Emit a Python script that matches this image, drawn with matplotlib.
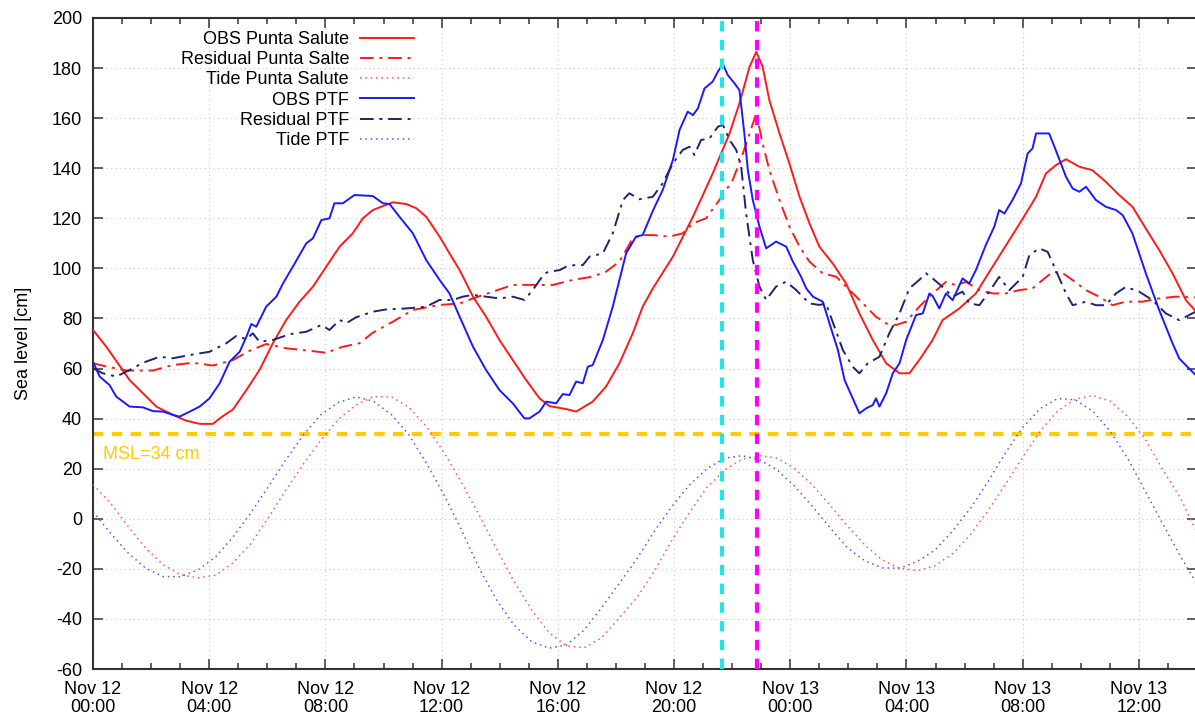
import matplotlib
matplotlib.use('Agg')
import matplotlib.pyplot as plt

plt.rcParams['font.family'] = ['Liberation Sans', 'DejaVu Sans']
plt.rcParams['axes.unicode_minus'] = False

# hours since Nov 12 00:00
obs_ps_t = [0, 0.46, 1.26, 2.18, 2.75, 3.2, 3.67, 4.13, 4.36, 4.82, 5.28, 5.73, 6.19, 6.65, 7.11, 7.57,
            8.03, 8.49, 8.94, 9.29, 9.63, 10.32, 10.78, 11.13, 11.47, 11.93, 12.27, 12.62, 13.08, 13.53,
            13.99, 14.45, 14.91, 15.37, 15.71, 16.29, 16.63, 17.2, 17.66, 18.12, 18.58, 18.92, 19.27,
            19.96, 20.65, 21.33, 21.91, 22.25, 22.6, 22.83, 23.05, 23.28, 23.63, 23.97, 24.32, 24.66,
            25.0, 25.46, 25.92, 26.38, 26.84, 27.3, 27.76, 28.1, 28.44, 28.9, 29.24, 29.82, 30.39, 30.96,
            31.54, 32.11, 32.46, 32.8, 33.14, 33.49, 33.95, 34.4, 34.86, 35.32, 35.78, 36.24, 36.7,
            37.16, 37.62, 37.95]
obs_ps = [75.4, 68.7, 55.4, 44.8, 41.5, 39.2, 37.9, 37.9, 40.1, 43.7, 51.4, 59.4, 70.1, 79.4, 86.7, 92.7,
          100.7, 108.7, 114, 120, 123.3, 126.4, 125.7, 124, 120.6, 112.7, 106, 99.3, 88.7, 80.7,
          71.4, 63.4, 55.4, 48.1, 45, 43.8, 42.8, 46.8, 52.8, 62.1, 74.1, 84.7, 92.0,
          104.7, 120.6, 137.9, 153.9, 165.9, 180.5, 186.5, 180.5, 167.2, 153.9, 141.9, 128.6, 118,
          108.7, 102, 94, 82, 71.4, 62.1, 58.1, 58.1, 63.4, 71.4, 79.3, 84, 90, 100.6,
          111.3, 121.9, 128.6, 137.9, 141.2, 143.6, 140.6, 139.2, 134.6, 129.3, 124.6, 115.9, 107.3,
          98, 87.3, 83]

res_ps_t = [0, 0.46, 1.15, 2.06, 2.75, 3.44, 4.13, 4.82, 5.39, 5.96, 6.65, 7.45, 8.03, 8.6, 9.17, 9.63,
            10.32, 11.01, 11.93, 12.62, 13.08, 13.76, 14.45, 15.14, 15.83, 16.52, 17.2, 17.66, 18.12,
            18.58, 18.92, 19.27, 19.84, 20.3, 20.65, 21.1, 21.56, 22.02, 22.37, 22.6, 22.83, 23.05,
            23.28, 23.63, 23.97, 24.32, 24.66, 25.12, 25.58, 26.04, 26.5, 26.95, 27.3, 27.64, 27.99,
            28.44, 28.9, 29.36, 29.7, 30.05, 30.51, 30.96, 31.42, 31.88, 32.34, 32.68, 33.03, 33.37,
            33.72, 34.18, 34.63, 35.09, 35.55, 36.12, 36.7, 37.27, 37.95]
res_ps = [62.1, 60.8, 59.2, 59.2, 61.4, 62.3, 61.2, 63.4, 67.1, 69.8, 68.1, 67.1, 66.3, 68.7, 70.1, 74.3,
          78.7, 83.4, 85.4, 86, 88, 90.7, 93.4, 93.4, 93.4, 95.4, 96.7, 98.7, 102.7,
          112, 113.3, 113.3, 112.7, 114, 118, 120, 127.3, 135.3, 145.9, 153.9, 161.9, 149.9,
          139.3, 127.3, 116.7, 108.7, 102.7, 98, 96.7, 91.4, 86, 80.7, 78, 77.4, 78.7,
          84.7, 90, 94.6, 93.3, 94.6, 91.3, 90, 90, 91.3, 92, 95.3, 98.6, 98.2,
          95.3, 91.3, 88.7, 85.3, 86.7, 86.7, 88, 88.7, 88.4]

obs_ptf_t = [0, 0.23, 0.57, 0.8, 1.26, 1.72, 2.06, 2.41, 2.75, 2.98, 3.33, 3.67, 4.01, 4.36, 4.7, 5.05,
             5.28, 5.45, 5.62, 5.96, 6.31, 6.54, 6.88, 7.34, 7.57, 7.86, 8.14, 8.31, 8.6, 9.0, 9.63,
             9.98, 10.21, 10.55, 11.01, 11.47, 11.93, 12.27, 12.62, 13.08, 13.53, 13.99, 14.45, 14.85,
             15.02, 15.37, 15.6, 15.94, 16.17, 16.4, 16.63, 16.86, 17.03, 17.2, 17.55, 17.89, 18.12,
             18.35, 18.69, 18.92, 19.27, 19.61, 19.96, 20.19, 20.47, 20.65, 20.82, 21.05, 21.33, 21.51,
             21.68, 21.85, 22.08, 22.25, 22.42, 22.54, 22.71, 22.94, 23.17, 23.51, 23.86, 24.09, 24.37,
             24.55, 24.78, 25.12, 25.35, 25.64, 25.87, 26.15, 26.38, 26.61, 26.84, 26.95, 27.07, 27.3,
             27.53, 27.76, 27.99, 28.33, 28.56, 28.79, 28.9, 29.13, 29.36, 29.59, 29.93, 30.16, 30.39,
             30.73, 31.02, 31.19, 31.37, 31.65, 31.94, 32.17, 32.34, 32.46, 32.68, 32.91, 33.14, 33.49,
             33.72, 33.95, 34.18, 34.52, 34.86, 35.21, 35.44, 35.78, 36.24, 36.7, 37.16, 37.39, 37.95]
obs_ptf = [62.7, 56.8, 53.4, 48.8, 44.8, 44.5, 43.0, 42.8, 41.5, 40.8, 42.8, 44.8, 48.1, 54.1, 62.7, 66.7,
           72.7, 77.8, 76.7, 84.7, 88.7, 94, 100.7, 110, 112, 119.3, 120, 126, 126, 129.3, 128.9,
           126, 125.7, 120.6, 114, 103.3, 95.4, 90, 80.7, 68.7, 59.4, 51.4, 46.1, 40.1,
           40.1, 42.8, 46.8, 46.1, 49.8, 49.4, 54.8, 54.1, 60.7, 61.4, 71.4, 84.7, 95.4,
           106, 112.7, 113.3, 123, 131.3, 143.3, 155.3, 162.6, 161.2, 163.9, 171.9, 174.6, 178.6,
           181.6, 177.2, 173.9, 171.2, 153.9, 139.3, 127.3, 116.7, 108, 110.7, 108.7, 102.7, 96.7,
           92, 88.7, 86.7, 78, 67.4, 55.4, 48.1, 42.1, 44.1, 45.4, 48.1, 44.8, 50.1,
           58.1, 62.1, 71.4, 81.4, 82, 90, 89, 84, 90, 87.3, 96, 94, 99.3,
           109.3, 116.6, 123.3, 121.9, 127.3, 133.9, 145.9, 147.9, 153.9, 153.9, 153.9, 147.2, 136.6,
           131.9, 130.6, 132.6, 127.3, 124.6, 123.3, 121.3, 113.9, 98, 83.3, 70, 64, 57.4]

res_ptf_t = [0, 0.34, 0.8, 1.26, 1.72, 2.29, 2.75, 3.33, 4.01, 4.59, 4.93, 5.28, 5.5, 5.73, 6.19, 6.77,
             7.34, 7.86, 8.14, 8.49, 8.72, 9.06, 9.63, 10.09, 10.78, 11.47, 11.93, 12.39, 12.73, 13.08,
             13.53, 13.99, 14.45, 14.85, 15.14, 15.54, 15.71, 16.06, 16.29, 16.57, 16.86, 17.09, 17.55,
             17.89, 18.24, 18.46, 18.81, 19.27, 19.61, 19.96, 20.3, 20.53, 20.7, 20.93, 21.22, 21.51,
             21.68, 21.91, 22.14, 22.31, 22.48, 22.71, 22.94, 23.17, 23.51, 23.86, 24.2, 24.66, 25.0,
             25.23, 25.52, 25.81, 26.15, 26.38, 26.67, 27.07, 27.41, 27.76, 28.1, 28.44, 28.67, 28.9,
             29.24, 29.59, 29.93, 30.16, 30.51, 30.85, 31.19, 31.54, 32.0, 32.23, 32.57, 32.86, 33.14,
             33.49, 33.72, 34.18, 34.52, 34.86, 35.21, 35.55, 36.01, 36.47, 36.93, 37.39, 37.95]
res_ptf = [60.1, 58.1, 56.8, 59.4, 62.3, 64.7, 64.1, 65.4, 66.7, 70.1, 73, 71.7, 74.1, 70.7, 71.4, 73.7,
           74.7, 77.4, 75.4, 79.4, 78.1, 80.5, 82.7, 83.6, 84, 84.7, 87.4, 87.4, 88.7, 89.4,
           88.7, 88, 88.7, 87.4, 91.4, 98, 98.7, 99.3, 100.7, 101.3, 101.3, 104.7, 106,
           114, 127.3, 130, 127.6, 128.6, 134, 141.9, 147.3, 148.6, 145.3, 151.3, 151.9, 156.6,
           157.3, 151.3, 147.3, 140.6, 122, 103.3, 92.7, 87.4, 92.7, 94.7, 91.4, 86, 85.4,
           86, 76.7, 67.4, 60.7, 58.1, 62.1, 64.7, 74.1, 82, 92, 95.4, 98, 96,
           92.6, 88.7, 90.7, 86, 85.3, 90.7, 96.6, 91.3, 96.6, 105.3, 108, 106.6, 99.3,
           90, 85.3, 86.7, 85.3, 85.3, 90, 92.6, 90.7, 87.3, 82, 79.3, 82.7]

tide_t = [0, 0.6, 1.21, 1.81, 2.42, 3.02, 3.62, 4.23, 4.83, 5.43, 6.04, 6.64, 7.25, 7.85, 8.45, 9.06,
          9.66, 10.27, 10.87, 11.47, 12.08, 12.68, 13.29, 13.89, 14.49, 15.1, 15.7, 16.3, 16.91, 17.51,
          18.12, 18.72, 19.32, 19.93, 20.53, 21.13, 21.74, 22.34, 22.95, 23.55, 24.15, 24.76, 25.36,
          25.96, 26.57, 27.17, 27.77, 28.38, 28.98, 29.58, 30.19, 30.79, 31.39, 32.0, 32.6, 33.2,
          33.81, 34.41, 35.01, 35.62, 36.22, 36.82, 37.43, 37.95]
tide_ps = [13.6, 6.3, -3.1, -11.7, -18.4, -22.4, -23.6, -22.5, -17.5, -10.0, 0.5, 11.5, 22.0, 31.5, 39.8, 45.5,
           48.8, 48.7, 44.5, 37.0, 26.5, 14.5, 1.5, -12.0, -25.0, -36.5, -45.5, -50.8, -51.5, -47.5,
           -39.5, -31.5, -21.0, -8.5, 2.5, 12.5, 19.5, 23.8, 25.2, 24.2, 20.0, 13.5, 5.5,
           -2.8, -10.5, -16.5, -19.8, -20.7, -18.8, -14.0, -6.5, 3.0, 13.5, 24.5, 35.0, 43.0,
           47.8, 49.2, 47.0, 40.8, 31.8, 19.6, 8.3, -4.4]
tide_ptf = [2.9, -5.7, -13.7, -19.7, -23.1, -23.1, -20.4, -15.1, -7.1, 2.3, 12.9, 23.6, 33.6, 41.6, 46.5, 48.7,
            46.9, 41.6, 33.6, 22.3, 9.6, -4.4, -19.7, -32.4, -42.4, -49.1, -51.7, -50.4, -44.4, -35.5,
            -25.7, -16.0, -5.0, 5.0, 13.5, 20.0, 24.2, 25.2, 23.5, 19.5, 13.0, 5.0, -3.5,
            -11.5, -16.8, -19.6, -19.8, -17.0, -12.5, -5.0, 4.0, 14.5, 26.0, 36.5, 44.0, 48.0,
            47.5, 43.0, 35.0, 24.0, 11.0, -2.0, -15.0, -25.1]

msl = 34
t_ptf_peak = 21.65
t_ps_peak = 22.85

tick_hours = [0, 4, 8, 12, 16, 20, 24, 28, 32, 36]
tick_labels = ['Nov 12\n00:00', 'Nov 12\n04:00', 'Nov 12\n08:00', 'Nov 12\n12:00', 'Nov 12\n16:00',
               'Nov 12\n20:00', 'Nov 13\n00:00', 'Nov 13\n04:00', 'Nov 13\n08:00', 'Nov 13\n12:00']

red = '#ff1a1a'
blue = '#1a1aff'
navy = '#22226e'

fig = plt.figure(figsize=(11.95, 7.21), dpi=100)
ax = fig.add_axes([93 / 1195, 52 / 721, 1104 / 1195, 651 / 721])

dashdot = (0, (7, 3, 1.5, 3))
dotted = (0, (1, 2.5))

ax.plot(obs_ps_t, obs_ps, color=red, lw=1.4, label='OBS Punta Salute', zorder=3)
ax.plot(res_ps_t, res_ps, color=red, lw=1.4, ls=dashdot, label='Residual Punta Salte', zorder=3)
ax.plot(tide_t, tide_ps, color='#ff5555', lw=1.1, ls=dotted, label='Tide Punta Salute', zorder=3)
ax.plot(obs_ptf_t, obs_ptf, color=blue, lw=1.4, label='OBS PTF', zorder=3)
ax.plot(res_ptf_t, res_ptf, color=navy, lw=1.4, ls=dashdot, label='Residual PTF', zorder=3)
ax.plot(tide_t, tide_ptf, color='#5555ff', lw=1.1, ls=dotted, label='Tide PTF', zorder=3)

ax.axhline(msl, color='#ffcc00', lw=3, ls=(0, (2.5, 2)), zorder=2)
ax.text(0.35, msl - 5, 'MSL=34 cm', color='#ffcc00', fontsize=13, va='top', ha='left')
ax.axvline(t_ptf_peak, color='#22e5e5', lw=3, ls=(0, (2.5, 2)), zorder=4)
ax.axvline(t_ps_peak, color='#ff00ff', lw=3, ls=(0, (2.5, 2)), zorder=4)

ax.set_xlim(0, 38.0)
ax.set_ylim(-60, 200)
ax.set_xticks(tick_hours)
ax.set_xticklabels(tick_labels, linespacing=1.05)
ax.set_xticks(range(0, 39), minor=True)
ax.set_yticks(range(-60, 201, 20))
ax.set_ylabel('Sea level [cm]', fontsize=13, labelpad=14)
ax.tick_params(which='both', direction='in', top=True, right=True, labelsize=13, width=1.2, color='#444444')
ax.tick_params(which='major', length=7)
ax.tick_params(which='minor', length=4)
ax.tick_params(axis='x', which='major', pad=9)
ax.tick_params(axis='y', which='major', pad=8)
ax.tick_params(axis='y', which='minor', left=False, right=False)
ax.grid(True, which='major', ls=(0, (1, 3)), color='#c8c8c8', lw=0.8)
for s in ax.spines.values():
    s.set_color('#333333')
    s.set_linewidth(1.5)

ax.legend(loc='upper right', bbox_to_anchor=(414 / 1195, 1 - 31 / 721), bbox_transform=fig.transFigure,
          frameon=False, markerfirst=False, fontsize=13, handlelength=3.0, handletextpad=0.6,
          labelspacing=0.18, borderpad=0, borderaxespad=0)

fig.savefig('out.png', dpi=100)
